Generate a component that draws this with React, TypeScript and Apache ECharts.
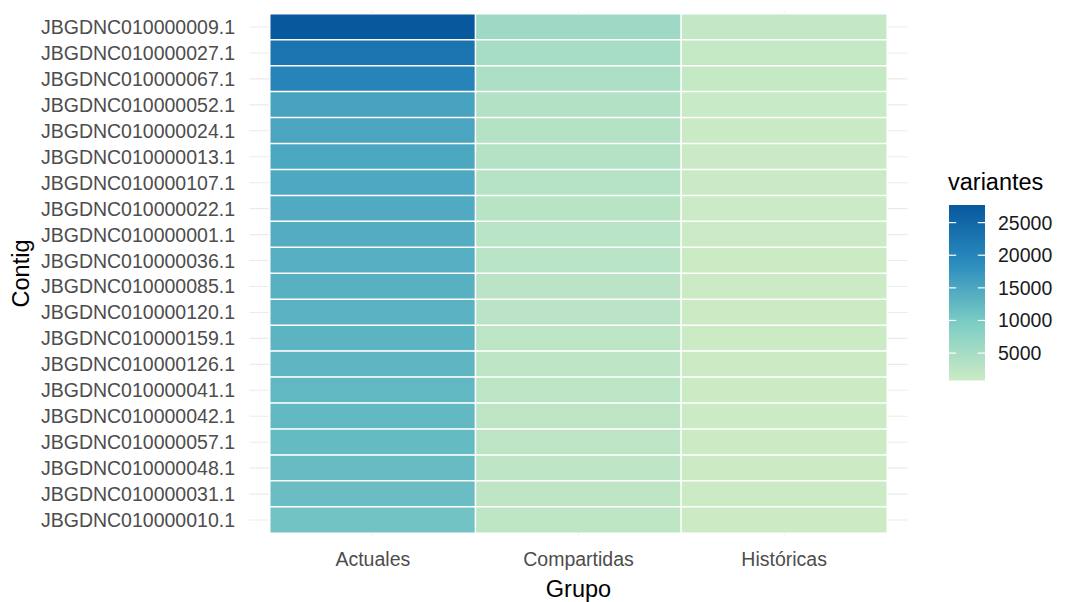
import React, { useEffect, useRef } from "react";
import * as echarts from "echarts";

// Contigs, top to bottom
const contigs = [
  "JBGDNC010000009.1",
  "JBGDNC010000027.1",
  "JBGDNC010000067.1",
  "JBGDNC010000052.1",
  "JBGDNC010000024.1",
  "JBGDNC010000013.1",
  "JBGDNC010000107.1",
  "JBGDNC010000022.1",
  "JBGDNC010000001.1",
  "JBGDNC010000036.1",
  "JBGDNC010000085.1",
  "JBGDNC010000120.1",
  "JBGDNC010000159.1",
  "JBGDNC010000126.1",
  "JBGDNC010000041.1",
  "JBGDNC010000042.1",
  "JBGDNC010000057.1",
  "JBGDNC010000048.1",
  "JBGDNC010000031.1",
  "JBGDNC010000010.1",
];

const grupos = ["Actuales", "Compartidas", "Históricas"];

// variant counts per contig and group
const actuales = [
  27700, 22850, 20100, 15500, 15200, 15000, 14800, 14500, 14250, 14000,
  13700, 13450, 13200, 12950, 12700, 12450, 12200, 12000, 11800, 10900,
];
const compartidas = [
  6000, 4800, 4350, 3600, 3400, 3300, 3150, 3050, 2950, 2900,
  2800, 2750, 2650, 2600, 2550, 2500, 2450, 2400, 2350, 2300,
];
const historicas = [
  1700, 1600, 1500, 1200, 1050, 1000, 980, 950, 950, 930,
  920, 900, 880, 870, 860, 850, 840, 830, 820, 800,
];

// colour bar breaks
const legendBreaks = [5000, 10000, 15000, 20000, 25000];

const palette = ["#ccebc5", "#7bccc4", "#2b8cbe", "#08589e"];

const FONT = "'Liberation Sans', Arial, Helvetica, sans-serif";

export default function App() {
  const ref = useRef<HTMLDivElement>(null);

  useEffect(() => {
    if (!ref.current) return;
    const chart = echarts.init(ref.current, null, { renderer: "svg" });

    const columns = [actuales, compartidas, historicas];
    const heatData: number[][] = [];
    columns.forEach((col, gi) => {
      col.forEach((v, ci) => heatData.push([gi, ci, v]));
    });
    const all = columns.flat();
    const vmin = Math.min(...all);
    const vmax = Math.max(...all);

    // tile area
    const tileLeft = 270;
    const tileTop = 14;
    const tileW = 617;
    const tileH = 519;
    const cellW = tileW / grupos.length;
    const cellH = tileH / contigs.length;
    // panel with 0.6-unit expansion around the discrete positions
    const panelLeft = tileLeft - 0.1 * cellW;
    const panelTop = tileTop - 0.1 * cellH;
    const panelW = tileW + 0.2 * cellW;
    const panelH = tileH + 0.2 * cellH;

    // colour bar geometry
    const barTop = 205;
    const barBottom = 380.5;
    const barLeft = 949;
    const barWidth = 36;
    const step = 5000;
    const axMin = Math.floor(vmin / step) * step;
    const axMax = Math.ceil(vmax / step) * step;
    const pxPerUnit = (barBottom - barTop) / (vmax - vmin);
    const legendGridTop = barTop - (axMax - vmax) * pxPerUnit;
    const legendGridH = (axMax - axMin) * pxPerUnit;

    const gradient = new echarts.graphic.LinearGradient(
      0,
      1,
      0,
      0,
      palette.map((c, i) => ({ offset: i / (palette.length - 1), color: c }))
    );

    const option: any = {
      animation: false,
      backgroundColor: "#ffffff",
      textStyle: { fontFamily: FONT },
      grid: [
        { left: tileLeft, top: tileTop, width: tileW, height: tileH },
        { left: panelLeft, top: panelTop, width: panelW, height: panelH },
        { left: barLeft, top: legendGridTop, width: barWidth, height: legendGridH },
      ],
      xAxis: [
        {
          type: "category",
          gridIndex: 0,
          data: grupos,
          axisLine: { show: false },
          axisTick: { show: false },
          splitLine: { show: false },
          axisLabel: {
            color: "#4d4d4d",
            fontSize: 19.5,
            margin: 16,
            interval: 0,
            fontFamily: FONT,
          },
        },
        {
          type: "value",
          gridIndex: 1,
          min: 1 - 0.6,
          max: grupos.length + 0.6,
          show: false,
        },
        { type: "value", gridIndex: 2, min: 0, max: 1, show: false },
      ],
      yAxis: [
        {
          type: "category",
          gridIndex: 0,
          data: contigs,
          inverse: true,
          axisLine: { show: false },
          axisTick: { show: false },
          splitLine: { show: false },
          axisLabel: {
            color: "#4d4d4d",
            fontSize: 19.5,
            margin: 35,
            interval: 0,
            fontFamily: FONT,
          },
        },
        {
          type: "value",
          gridIndex: 1,
          min: 1 - 0.6,
          max: contigs.length + 0.6,
          show: false,
        },
        {
          type: "value",
          gridIndex: 2,
          position: "right",
          min: axMin,
          max: axMax,
          interval: step,
          axisLine: { show: false },
          axisTick: { show: false },
          splitLine: { show: false },
          axisLabel: {
            color: "#1a1a1a",
            fontSize: 19.5,
            margin: 13,
            fontFamily: FONT,
            formatter: (v: number) => (v >= vmin && v <= vmax ? String(v) : ""),
          },
        },
      ],
      visualMap: {
        type: "continuous",
        show: false,
        min: vmin,
        max: vmax,
        dimension: 2,
        seriesIndex: 2,
        inRange: { color: palette },
      },
      series: [
        // vertical grid lines at each group
        {
          type: "custom",
          xAxisIndex: 1,
          yAxisIndex: 1,
          z: 0,
          silent: true,
          data: grupos.map((_, i) => [i + 1]),
          renderItem: (params: any, api: any) => {
            const cs = params.coordSys;
            const x = api.coord([api.value(0), 1])[0];
            return {
              type: "line",
              shape: { x1: x, y1: cs.y, x2: x, y2: cs.y + cs.height },
              style: { stroke: "#ebebeb", lineWidth: 1.1 },
            };
          },
        },
        // horizontal grid lines at each contig
        {
          type: "custom",
          xAxisIndex: 1,
          yAxisIndex: 1,
          z: 0,
          silent: true,
          data: contigs.map((_, i) => [i + 1]),
          renderItem: (params: any, api: any) => {
            const cs = params.coordSys;
            const y = api.coord([1, api.value(0)])[1];
            return {
              type: "line",
              shape: { x1: cs.x, y1: y, x2: cs.x + cs.width, y2: y },
              style: { stroke: "#ebebeb", lineWidth: 1.1 },
            };
          },
        },
        {
          type: "heatmap",
          xAxisIndex: 0,
          yAxisIndex: 0,
          z: 2,
          data: heatData,
          itemStyle: { borderColor: "#ffffff", borderWidth: 1.5 },
          emphasis: { disabled: true },
        },
        // colour bar
        {
          type: "custom",
          xAxisIndex: 2,
          yAxisIndex: 2,
          z: 2,
          silent: true,
          data: [[0]],
          renderItem: (_params: any, api: any) => {
            const p0 = api.coord([0, vmax]);
            const p1 = api.coord([1, vmin]);
            return {
              type: "rect",
              shape: { x: p0[0], y: p0[1], width: p1[0] - p0[0], height: p1[1] - p0[1] },
              style: { fill: gradient },
            };
          },
        },
        // white break marks on the colour bar
        {
          type: "custom",
          xAxisIndex: 2,
          yAxisIndex: 2,
          z: 3,
          silent: true,
          data: legendBreaks.map((b) => [b]),
          renderItem: (_params: any, api: any) => {
            const left = api.coord([0, api.value(0)]);
            const right = api.coord([1, api.value(0)]);
            const len = (right[0] - left[0]) / 5;
            return {
              type: "group",
              children: [
                {
                  type: "line",
                  shape: { x1: left[0], y1: left[1], x2: left[0] + len, y2: left[1] },
                  style: { stroke: "#ffffff", lineWidth: 1.2 },
                },
                {
                  type: "line",
                  shape: { x1: right[0] - len, y1: right[1], x2: right[0], y2: right[1] },
                  style: { stroke: "#ffffff", lineWidth: 1.2 },
                },
              ],
            };
          },
        },
      ],
      graphic: [
        {
          type: "text",
          x: panelLeft + panelW / 2,
          y: 588.5,
          style: {
            text: "Grupo",
            fontSize: 23.5,
            fontFamily: FONT,
            fill: "#000000",
            align: "center",
            verticalAlign: "middle",
          },
        },
        {
          type: "text",
          x: 20.5,
          y: panelTop + panelH / 2,
          rotation: Math.PI / 2,
          style: {
            text: "Contig",
            fontSize: 23.5,
            fontFamily: FONT,
            fill: "#000000",
            align: "center",
            verticalAlign: "middle",
          },
        },
        {
          type: "text",
          x: 948,
          y: 182,
          style: {
            text: "variantes",
            fontSize: 23.5,
            fontFamily: FONT,
            fill: "#000000",
            align: "left",
            verticalAlign: "middle",
          },
        },
      ],
    };

    chart.setOption(option);
    return () => chart.dispose();
  }, []);

  return (
    <div
      ref={ref}
      style={{ position: "fixed", left: 0, top: 0, width: 1065, height: 602 }}
    />
  );
}
